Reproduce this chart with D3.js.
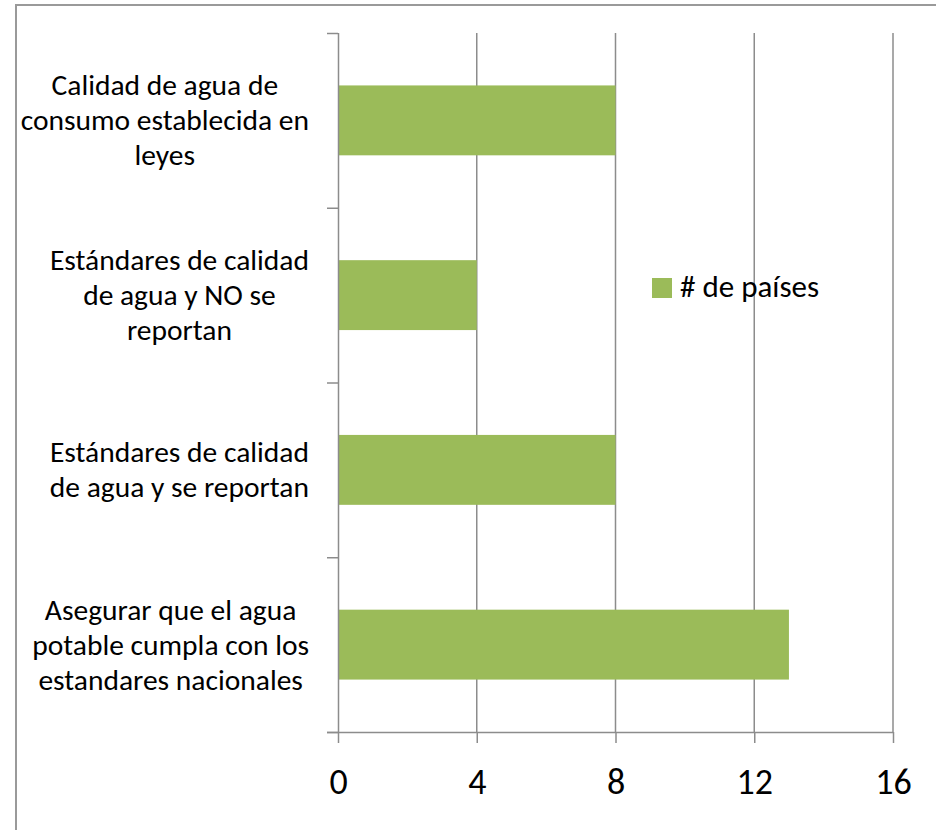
<!DOCTYPE html>
<html>
<head>
<meta charset="utf-8">
<script src="https://cdn.jsdelivr.net/npm/d3@7"></script>
<style>
  html, body { margin: 0; padding: 0; background: #fff; }
  svg { display: block; }
  text { font-family: Carlito, Lato, "Open Sans", sans-serif; fill: #000; }
</style>
</head>
<body>
<svg id="chart" width="936" height="830"></svg>
<script>
// ---- data ----
const categories = [
  ["Calidad de agua de", "consumo establecida en", "leyes"],
  ["Estándares de calidad", "de agua y NO se", "reportan"],
  ["Estándares de calidad", "de agua y se reportan"],
  ["Asegurar que el agua", "potable cumpla con los", "estandares nacionales"]
];
const values = [8, 4, 8, 13];
const xTicks = [0, 4, 8, 12, 16];
const seriesName = "# de países";

// ---- layout ----
const svg = d3.select("#chart");
const plotL = 338, plotR = 893, plotT = 33, plotB = 732;
const barColor = "#9BBB59";
const gridColor = "#8c8c8c";

// outer border
svg.append("rect").attr("x", 16).attr("y", 5).attr("width", 940).attr("height", 840)
  .attr("fill", "none").attr("stroke", "#9a9a9a").attr("stroke-width", 2);

const x = d3.scaleLinear().domain([0, 16]).range([plotL, plotR]);
const y = d3.scaleBand().domain(d3.range(categories.length)).range([plotT, plotB])
  .paddingInner(0.6).paddingOuter(0.3);

// gridlines
svg.append("g").selectAll("line").data(xTicks.slice(1)).join("line")
  .attr("x1", d => x(d)).attr("x2", d => x(d))
  .attr("y1", plotT).attr("y2", plotB)
  .attr("stroke", gridColor).attr("stroke-width", 1.5);

// bars
svg.append("g").selectAll("rect").data(values).join("rect")
  .attr("x", x(0)).attr("y", (d, i) => y(i))
  .attr("width", d => x(d) - x(0)).attr("height", y.bandwidth())
  .attr("fill", barColor);

// x axis
const xAxis = d3.axisBottom(x).tickValues(xTicks).tickSize(11)
  .tickFormat(d3.format("d"));
const gx = svg.append("g").attr("transform", `translate(0,${plotB})`).call(xAxis);
gx.select(".domain").attr("stroke", gridColor).attr("stroke-width", 1.5)
  .attr("d", `M${plotL - 11},0.5H${plotR}`);
gx.selectAll(".tick line").attr("stroke", gridColor).attr("stroke-width", 1.5);
gx.selectAll(".tick text").attr("font-size", 36).attr("font-family", "Carlito, Lato, sans-serif")
  .attr("fill", "#000").attr("y", 62).attr("dy", null);

// y axis (band boundaries as ticks)
const yb = d3.scaleLinear().domain([0, categories.length]).range([plotT, plotB]);
const gy = svg.append("g").attr("transform", `translate(${plotL},0)`)
  .call(d3.axisLeft(yb).tickValues(d3.range(categories.length + 1)).tickSize(11).tickFormat(""));
gy.select(".domain").attr("stroke", gridColor).attr("stroke-width", 1.5)
  .attr("d", `M0.5,${plotT}V${plotB}`);
gy.selectAll(".tick line").attr("stroke", gridColor).attr("stroke-width", 1.5);

// category labels
const labelRight = 309, lineH = 35, labelSize = 29.5;
categories.forEach((lines, i) => {
  const cy = y(i) + y.bandwidth() / 2;
  const g = svg.append("g");
  const texts = g.selectAll("text").data(lines).join("text")
    .attr("font-size", labelSize)
    .attr("text-anchor", "middle")
    .attr("dominant-baseline", "central")
    .attr("y", (d, j) => cy + (j - (lines.length - 1) / 2) * lineH)
    .text(d => d);
  let maxW = 0;
  texts.each(function () { maxW = Math.max(maxW, this.getComputedTextLength()); });
  texts.attr("x", labelRight - maxW / 2);
});

// legend
svg.append("rect").attr("x", 652).attr("y", 278).attr("width", 20).attr("height", 20).attr("fill", barColor);
svg.append("text").attr("x", 680).attr("y", 297).attr("font-size", 31).text(seriesName);
</script>
</body>
</html>
